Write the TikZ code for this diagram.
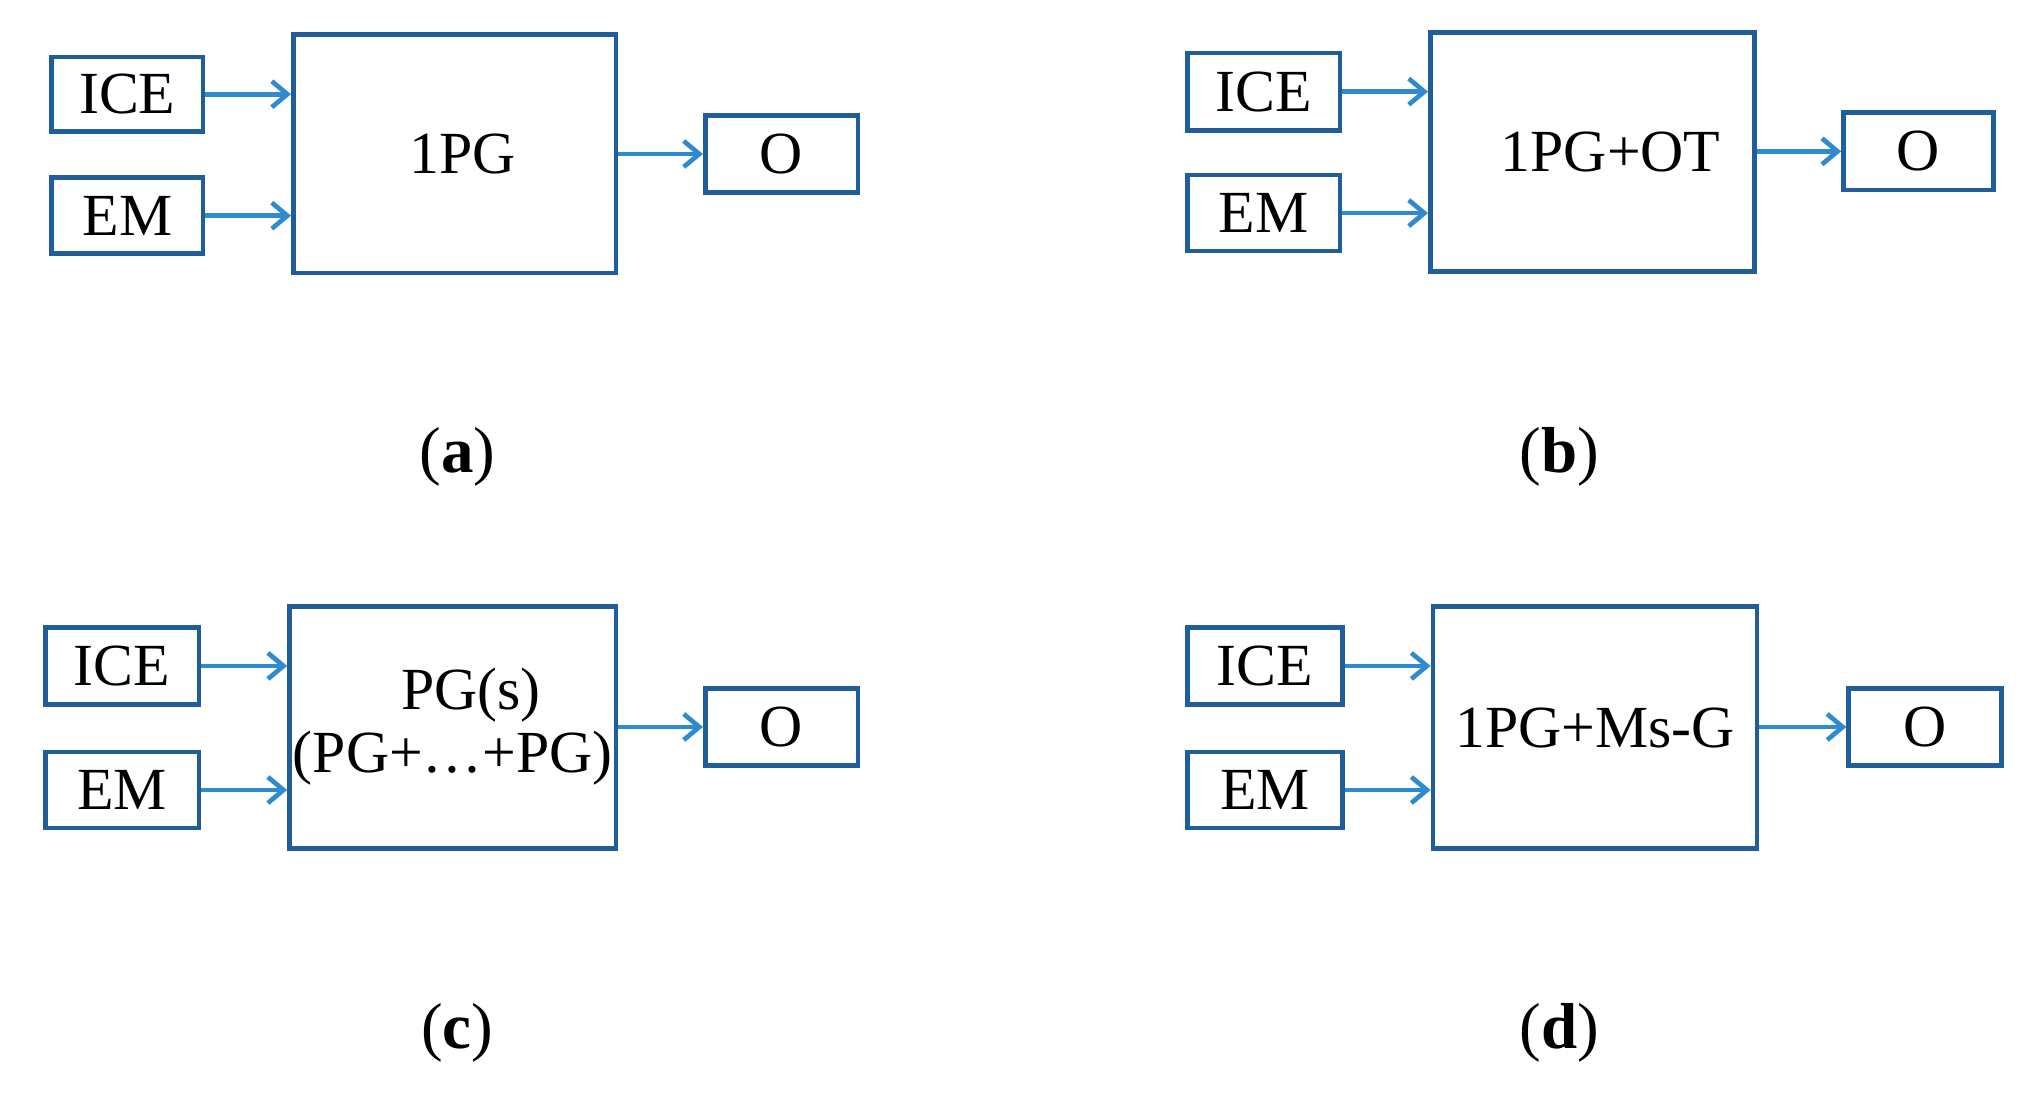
\documentclass[tikz,border=0pt]{standalone}
\usepackage{fontspec}
\setmainfont{Liberation Serif}
\usetikzlibrary{arrows.meta}
\definecolor{bx}{HTML}{1F5E9A}
\definecolor{ar}{HTML}{2E8BCF}
\begin{document}
\begin{tikzpicture}[x=0.5pt,y=-0.5pt,
  b/.style={draw=bx,line width=1.8pt,inner sep=0pt,font=\fontsize{23}{26}\selectfont},
  a/.style={draw=ar,line width=1.8pt,-{Straight Barb[length=6pt,width=10pt]}},
  lab/.style={font=\fontsize{25}{28}\selectfont}]
\useasboundingbox (0,0) rectangle (1560,850);
\newcommand\bxx[6]{\node[b,minimum width=#4*0.5pt-#2*0.5pt-1.8pt,minimum height=#5*0.5pt-#3*0.5pt-1.8pt] (#1) at ({(#2+#4)/2},{(#3+#5)/2}) {#6};}
% (a)
\bxx{ia}{38}{42}{158}{103}{ICE}
\bxx{ea}{38}{135}{158}{197}{EM}
\bxx{pa}{224}{25}{476}{212}{\hspace*{6pt}1PG}
\bxx{oa}{541}{87}{662}{150}{O}
\coordinate (pia) at (224,72.5); \coordinate (pea) at (224,166);\coordinate (poa) at (476,118.5);
\draw[a] (ia.east) -- (pia); \draw[a] (ea.east) -- (pea); \draw[a] (poa) -- (oa.west);
\node[lab] (la) at (352,352) {(\textbf{a})};
% (b)
\bxx{ib}{912}{39}{1033}{102}{ICE}
\bxx{eb}{912}{133}{1033}{195}{EM}
\bxx{pb}{1099}{23}{1352}{211}{\hspace*{14pt}1PG+OT}
\bxx{ob}{1417}{85}{1536}{148}{O}
\coordinate (pib) at (1099,70.5); \coordinate (peb) at (1099,164);\coordinate (pob) at (1352,116.5);
\draw[a] (ib.east) -- (pib); \draw[a] (eb.east) -- (peb); \draw[a] (pob) -- (ob.west);
\node[lab] (lb) at (1200,352) {(\textbf{b})};
% (c)
\bxx{ic}{33}{481}{155}{544}{ICE}
\bxx{ec}{33}{577}{155}{639}{EM}
\bxx{pc}{221}{465}{476}{655}{\begin{tabular}{@{}c@{}}\hspace*{14pt}PG(s)\\[-2pt](PG+\ldots+PG)\end{tabular}}
\bxx{oc}{541}{528}{662}{591}{O}
\coordinate (pic) at (221,512.5); \coordinate (pec) at (221,608);\coordinate (poc) at (476,559.5);
\draw[a] (ic.east) -- (pic); \draw[a] (ec.east) -- (pec); \draw[a] (poc) -- (oc.west);
\node[lab] (lc) at (352,795) {(\textbf{c})};
% (d)
\bxx{id}{912}{481}{1035}{544}{ICE}
\bxx{ed}{912}{577}{1035}{639}{EM}
\bxx{pd}{1101}{465}{1354}{655}{1PG+Ms-G}
\bxx{od}{1421}{528}{1542}{591}{O}
\coordinate (pid) at (1101,512.5); \coordinate (ped) at (1101,608);\coordinate (pod) at (1354,559.5);
\draw[a] (id.east) -- (pid); \draw[a] (ed.east) -- (ped); \draw[a] (pod) -- (od.west);
\node[lab] (ld) at (1200,795) {(\textbf{d})};
\end{tikzpicture}
\end{document}
